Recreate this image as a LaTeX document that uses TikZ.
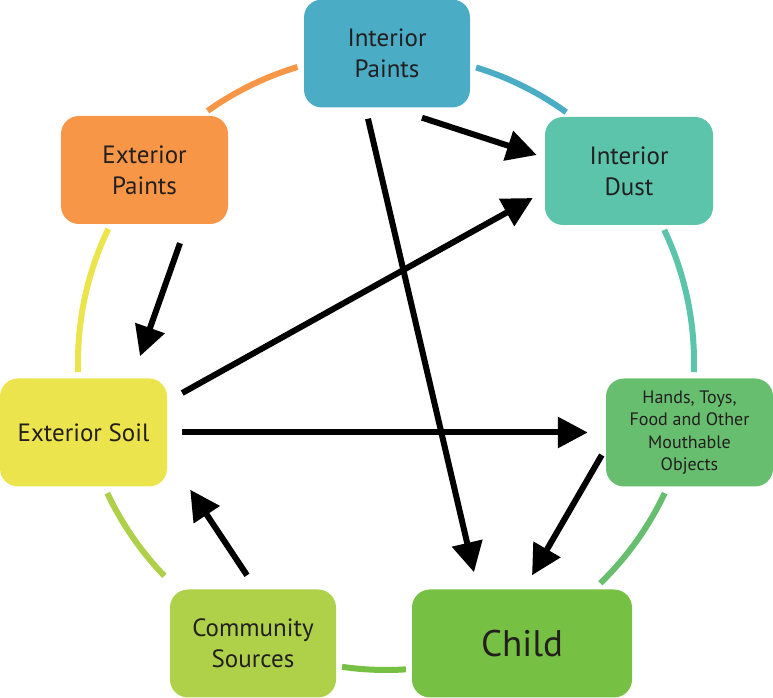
\documentclass[tikz,border=0pt]{standalone}
\usepackage{fontspec}
\setmainfont{PT Sans}
\usetikzlibrary{arrows.meta,calc}
\definecolor{cIP}{RGB}{75,172,198}
\definecolor{cID}{RGB}{91,196,170}
\definecolor{cEP}{RGB}{247,150,70}
\definecolor{cES}{RGB}{236,228,76}
\definecolor{cHT}{RGB}{103,190,110}
\definecolor{cCH}{RGB}{118,192,67}
\definecolor{cCS}{RGB}{175,209,74}
\definecolor{txt}{RGB}{35,31,32}
\tikzset{
  box/.style={rectangle, rounded corners=18pt, minimum width=166pt, minimum height=108pt, inner sep=0pt, align=center, text=txt, font=\fontsize{25}{31}\selectfont},
  ring/.style={line width=6pt},
  arr/.style={line width=6pt, -{Triangle[length=30pt,width=30pt]}, black},
}
\begin{document}
\begin{tikzpicture}[x=1pt,y=1pt]
\useasboundingbox (0,0) rectangle (773,698);
\coordinate (c) at (386,336);
% ring arcs
\draw[ring,cEP] ($(c)+(125.4:308)$) arc[start angle=125.4,end angle=106.7,radius=308];
\draw[ring,cIP] ($(c)+(73:308)$) arc[start angle=73,end angle=54.2,radius=308];
\draw[ring,cID] ($(c)+(25.4:308)$) arc[start angle=25.4,end angle=-1.9,radius=308];
\draw[ring,cHT] ($(c)+(-25.2:308)$) arc[start angle=-25.2,end angle=-45.9,radius=308];
\draw[ring,cCH] ($(c)+(-86.3:308)$) arc[start angle=-86.3,end angle=-98.2,radius=308];
\draw[ring,cCS] ($(c)+(-136:308)$) arc[start angle=-136,end angle=-154.8,radius=308];
\draw[ring,cES] ($(c)+(181.9:308)$) arc[start angle=181.9,end angle=154.4,radius=308];
% nodes
\node[box,fill=cIP] (ip) at (387,644.5) {Interior\\Paints};
\node[box,fill=cID,minimum width=168pt] (id) at (629,527) {Interior\\Dust};
\node[box,fill=cEP,minimum width=167pt] (ep) at (144.5,528) {Exterior\\Paints};
\node[box,fill=cES,minimum width=167pt] (es) at (83.5,265.5) {Exterior Soil};
\node[box,fill=cHT,minimum width=167pt,font=\fontsize{18}{22.5}\selectfont] (ht) at (689.5,265.5) {Hands, Toys,\\Food and Other\\Mouthable\\Objects};
\node[box,fill=cCS] (cs) at (253,54.5) {Community\\Sources};
\node[box,fill=cCH,minimum width=220pt,font=\fontsize{37}{44}\selectfont] (ch) at (522,54.5) {Child};
% arrows
\draw[arr] ($(ip.south)+(35,-10)$) -- ($(id.west)+(-8,16)$);
\draw[arr] ($(ip.south)+(-19,-11)$) -- ($(ch.north)+(-48,17)$);
\draw[arr] ($(es.east)+(15,39.5)$) -- ($(id.west)+(-12,-27)$);
\draw[arr] ($(es.east)+(15,0)$) -- ($(ht.west)+(-18,0)$);
\draw[arr] ($(ep.south)+(35.5,-19)$) -- ($(es.north)+(56.5,22)$);
\draw[arr] ($(ht.west)+(-4,-22.5)$) -- ($(ch.north)+(10,14)$);
\draw[arr] ($(cs.north)+(-6,14)$) -- ($(es.south east)+(23,-3)$);
\end{tikzpicture}
\end{document}
